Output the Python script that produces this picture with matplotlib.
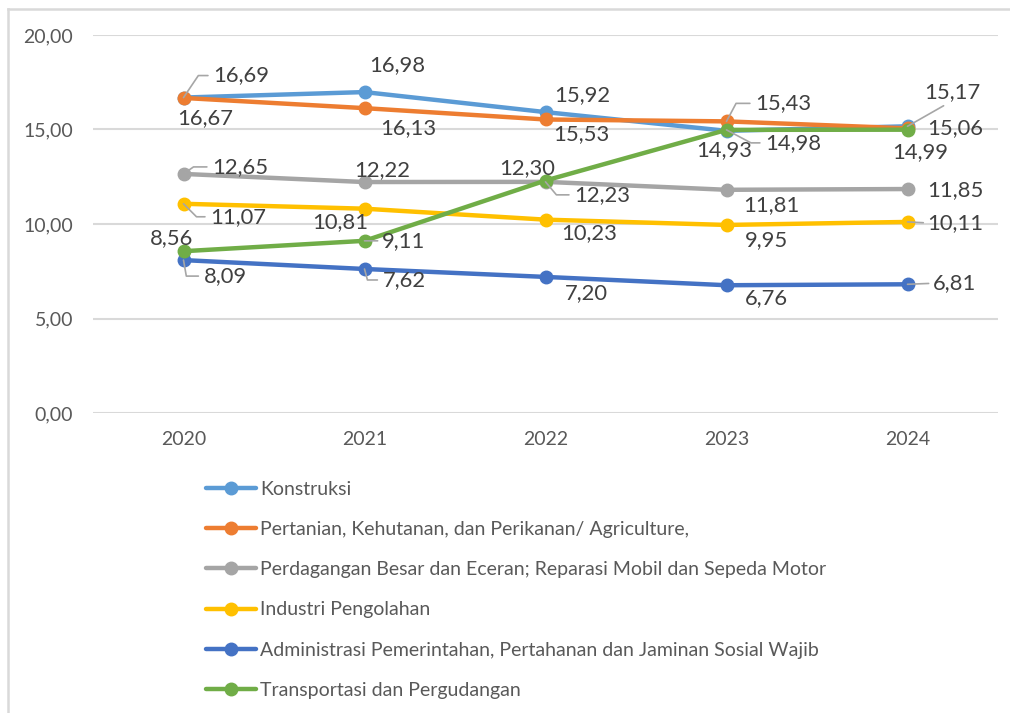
import matplotlib
matplotlib.use("Agg")
import matplotlib.pyplot as plt
from matplotlib.lines import Line2D

plt.rcParams['font.family'] = ['Lato', 'DejaVu Sans']

years = ['2020', '2021', '2022', '2023', '2024']
series_names = [
    'Konstruksi',
    'Pertanian, Kehutanan, dan Perikanan/ Agriculture,',
    'Perdagangan Besar dan Eceran; Reparasi Mobil dan Sepeda Motor',
    'Industri Pengolahan',
    'Administrasi Pemerintahan, Pertahanan dan Jaminan Sosial Wajib',
    'Transportasi dan Pergudangan',
]
konstruksi = [16.69, 16.98, 15.92, 14.93, 15.17]
pertanian = [16.67, 16.13, 15.53, 15.43, 15.06]
perdagangan = [12.65, 12.22, 12.23, 11.81, 11.85]
industri = [11.07, 10.81, 10.23, 9.95, 10.11]
administrasi = [8.09, 7.62, 7.20, 6.76, 6.81]
transportasi = [8.56, 9.11, 12.30, 14.98, 14.99]
series_values = [konstruksi, pertanian, perdagangan, industri, administrasi, transportasi]
colors = ['#5B9BD5', '#ED7D31', '#A5A5A5', '#FFC000', '#4472C4', '#70AD47']
y_ticks = [0, 5, 10, 15, 20]

# label placement styling: (dx px, dy px, leader) ; leader: None, 'line', 'bottom' or angle in degrees
label_style = [
    [(58, 22, 56), (33, 27, None), (37, 17, None), (-2, -19, None), (45, 34, 'bottom')],
    [(22, -20, None), (44, -20, None), (36, -15, None), (57, 18, 62), (48, 0, None)],
    [(57, 7, 35), (18, 12, None), (57, -13, -50), (45, -15, None), (48, -1, None)],
    [(55, -13, -45), (-24, -13, None), (44, -13, None), (40, -15, None), (48, -1, 'line')],
    [(42, -16, -80), (40, -11, -75), (41, -16, None), (40, -13, None), (47, 1, 'line')],
    [(-12, 13, None), (39, 0, 'line'), (-18, 12, None), (67, -13, -28), (13, -22, None)],
]

W, H = 1010, 713
fig = plt.figure(figsize=(W / 100, H / 100), dpi=100)
ax = fig.add_axes([93 / W, 1 - 413 / H, 905 / W, 378 / H])

x = list(range(len(years)))
for name, vals, c in zip(series_names, series_values, colors):
    ax.plot(x, vals, color=c, lw=3.2, marker='o', markersize=9, label=name,
            solid_capstyle='round', zorder=3)

grey = '#404040'
lead = '#A6A6A6'
px2pt = 0.72
for vals, styles in zip(series_values, label_style):
    for i, (v, (dx, dy, ld)) in enumerate(zip(vals, styles)):
        txt = f"{v:.2f}".replace('.', ',')
        kw = dict(xy=(i, v), xytext=(dx * px2pt, dy * px2pt), textcoords='offset points',
                  ha='center', va='center', fontsize=15.8, color=grey, zorder=5)
        if ld is None:
            ax.annotate(txt, **kw)
        elif ld == 'bottom':
            ax.annotate(txt, arrowprops=dict(arrowstyle='-', color=lead, lw=1.2,
                                             relpos=(0.45, 0.0), shrinkA=1, shrinkB=0),
                        **kw)
        elif ld == 'line':
            ax.annotate(txt, arrowprops=dict(arrowstyle='-', color=lead, lw=1.2,
                                             relpos=(0.0, 0.5), shrinkA=1, shrinkB=0),
                        **kw)
        else:
            ax.annotate(txt, arrowprops=dict(arrowstyle='-', color=lead, lw=1.2,
                                             relpos=(0.0, 0.5), shrinkA=2, shrinkB=0,
                                             connectionstyle=f"angle,angleA=0,angleB={ld},rad=0"),
                        **kw)

ax.set_xlim(-0.5, 4.5)
ax.set_ylim(0, 20)
ax.set_yticks(y_ticks)
ax.set_yticklabels([f"{t:.2f}".replace('.', ',') for t in y_ticks])
ax.set_xticks(x)
ax.set_xticklabels(years)
ax.tick_params(axis='both', length=0, labelsize=14, labelcolor='#595959')
ax.tick_params(axis='y', pad=14.4)
ax.tick_params(axis='x', pad=13)
ax.grid(axis='y', color='#D9D9D9', lw=1.5)
ax.set_axisbelow(True)
for s in ax.spines.values():
    s.set_visible(False)

handles = [Line2D([0], [0], color=c, lw=3.2, marker='o', markersize=9,
                  solid_capstyle='round') for c in colors]
fig.legend(handles, series_names, loc='upper left',
           bbox_to_anchor=(206 / W, 1 - 481 / H), frameon=False,
           fontsize=14, labelcolor='#595959', handlelength=2.58,
           handletextpad=0.2, labelspacing=1.19, borderpad=0, borderaxespad=0)

# chart border (top and left visible)
fig.add_artist(Line2D([8 / W, 1], [1 - 9 / H, 1 - 9 / H], color='#D9D9D9', lw=1.8))
fig.add_artist(Line2D([8 / W, 8 / W], [0, 1 - 9 / H], color='#D9D9D9', lw=1.8))

fig.savefig('out.png', dpi=100, facecolor='white')
